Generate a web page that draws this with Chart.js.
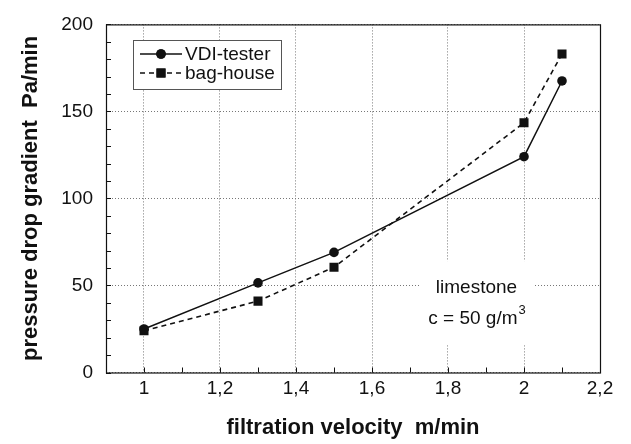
<!DOCTYPE html>
<html>
<head>
<meta charset="utf-8">
<script src="https://cdn.jsdelivr.net/npm/chart.js@4/dist/chart.umd.min.js"></script>
<style>
  html, body { margin: 0; padding: 0; background: #fff; }
  #wrap { width: 631px; height: 444px; }
</style>
</head>
<body>
<div id="wrap"><canvas id="filtration-chart" width="631" height="444"></canvas></div>
<script>
// data
const velocity = [1, 1.3, 1.5, 2, 2.1]
const vdiTester = [25, 51.5, 69, 124, 167.5]
const bagHouse = [24, 41, 60.5, 143.5, 183]
const xTickValues = [1, 1.2, 1.4, 1.6, 1.8, 2, 2.2]
const yTickValues = [0, 50, 100, 150, 200]

const FONT = '"Liberation Sans", Arial, Helvetica, sans-serif'
const INK = '#111'

const toPoints = ys => velocity.map((x, i) => ({ x: x, y: ys[i] }))

// plot box + little inward ticks
const frame = {
  id: 'frame',
  afterDatasetsDraw(chart) {
    const { ctx, chartArea: a, scales } = chart
    ctx.save()
    ctx.strokeStyle = INK
    ctx.lineWidth = 1
    ctx.beginPath()
    for (let v = 0.9; v < 2.21; v += 0.1) {
      const px = Math.round(scales.x.getPixelForValue(v)) + 0.5
      ctx.moveTo(px, a.bottom)
      ctx.lineTo(px, a.bottom - 5)
    }
    for (let v = 0; v <= 200; v += 10) {
      const py = Math.round(scales.y.getPixelForValue(v)) + 0.5
      ctx.moveTo(a.left, py)
      ctx.lineTo(a.left + 5, py)
    }
    ctx.stroke()
    ctx.lineWidth = 1.2
    ctx.strokeRect(a.left + 0.5, a.top + 0.5, a.right - a.left, a.bottom - a.top)
    ctx.restore()
  },
}

// "limestone / c = 50 g/m3" note, sits on a white patch over the grid
const note = {
  id: 'note',
  beforeDatasetsDraw(chart) {
    const { ctx, scales } = chart
    const cx = scales.x.getPixelForValue(1.875)
    const y1 = scales.y.getPixelForValue(48.5)
    const y2 = scales.y.getPixelForValue(31)
    ctx.save()
    ctx.fillStyle = '#fff'
    ctx.fillRect(cx - 56, y1 - 27, 114, 84)
    ctx.fillStyle = INK
    ctx.textBaseline = 'middle'
    ctx.textAlign = 'center'
    ctx.font = '19px ' + FONT
    ctx.fillText('limestone', cx, y1)
    const main = 'c = 50 g/m'
    const w = ctx.measureText(main).width
    ctx.font = '13px ' + FONT
    const ws = ctx.measureText('3').width
    const left = cx - (w + ws) / 2
    ctx.textAlign = 'left'
    ctx.font = '19px ' + FONT
    ctx.fillText(main, left, y2)
    ctx.font = '13px ' + FONT
    ctx.fillText('3', left + w + 1, y2 - 8)
    ctx.restore()
  },
}

// boxed legend with line + marker samples
const boxLegend = {
  id: 'boxLegend',
  afterDatasetsDraw(chart) {
    const { ctx } = chart
    const bx = 133, by = 40, bw = 148, bh = 49
    ctx.save()
    ctx.fillStyle = '#fff'
    ctx.fillRect(bx, by, bw, bh)
    ctx.strokeStyle = '#555'
    ctx.lineWidth = 1
    ctx.strokeRect(bx + 0.5, by + 0.5, bw, bh)
    chart.data.datasets.forEach((ds, i) => {
      const y = by + 14 + i * 19
      ctx.strokeStyle = ds.borderColor
      ctx.lineWidth = ds.borderWidth
      ctx.setLineDash(ds.borderDash || [])
      ctx.beginPath()
      ctx.moveTo(bx + 7, y)
      ctx.lineTo(bx + 49, y)
      ctx.stroke()
      ctx.setLineDash([])
      ctx.fillStyle = ds.pointBackgroundColor
      Chart.helpers.drawPoint(ctx, { pointStyle: ds.pointStyle, radius: ds.pointRadius, borderWidth: 0, rotation: 0 }, bx + 28, y)
      ctx.fill()
      ctx.fillStyle = INK
      ctx.font = '19px ' + FONT
      ctx.textBaseline = 'middle'
      ctx.textAlign = 'left'
      ctx.fillText(ds.label, bx + 52, y + 1)
    })
    ctx.restore()
  },
}

const gridStyle = {
  color: '#777',
  lineWidth: 1,
  drawTicks: false,
}

const chart = new Chart(document.getElementById('filtration-chart'), {
  type: 'scatter',
  data: {
    datasets: [
      {
        label: 'VDI-tester',
        data: toPoints(vdiTester),
        showLine: true,
        borderColor: INK,
        borderWidth: 1.5,
        pointStyle: 'circle',
        pointRadius: 4.8,
        pointBackgroundColor: INK,
        pointBorderWidth: 0,
      },
      {
        label: 'bag-house',
        data: toPoints(bagHouse),
        showLine: true,
        borderColor: INK,
        borderWidth: 1.6,
        borderDash: [5, 4],
        pointStyle: 'rect',
        pointRadius: 6.4,
        pointBackgroundColor: INK,
        pointBorderWidth: 0,
      },
    ],
  },
  options: {
    responsive: false,
    animation: false,
    layout: { padding: { top: 15, right: 31, left: 0, bottom: 0 } },
    plugins: {
      legend: { display: false },
      tooltip: { enabled: false },
    },
    scales: {
      x: {
        type: 'linear',
        min: 0.9,
        max: 2.2,
        afterBuildTicks: scale => {
          scale.ticks = xTickValues.map(v => ({ value: v }))
        },
        afterFit: scale => {
          scale.height = 71.5
        },
        grid: gridStyle,
        border: { display: false, dash: [1, 2] },
        ticks: {
          color: INK,
          padding: 5,
          maxRotation: 0,
          autoSkip: false,
          font: { family: FONT, size: 19 },
          callback: v => String(v).replace('.', ','),
        },
        title: {
          display: true,
          text: 'filtration velocity  m/min',
          color: INK,
          font: { family: FONT, size: 22, weight: 'bold' },
          padding: { top: 0, bottom: 3 },
        },
      },
      y: {
        min: 0,
        max: 200,
        afterBuildTicks: scale => {
          scale.ticks = yTickValues.map(v => ({ value: v }))
        },
        afterFit: scale => {
          scale.width = 106
        },
        grid: gridStyle,
        border: { display: false, dash: [1, 2] },
        ticks: {
          color: INK,
          padding: 13,
          font: { family: FONT, size: 19 },
        },
        title: {
          display: true,
          text: 'pressure drop gradient  Pa/min',
          color: INK,
          font: { family: FONT, size: 22, weight: 'bold' },
          padding: { top: 18, bottom: 0 },
        },
      },
    },
  },
  plugins: [note, frame, boxLegend],
})
</script>
</body>
</html>
